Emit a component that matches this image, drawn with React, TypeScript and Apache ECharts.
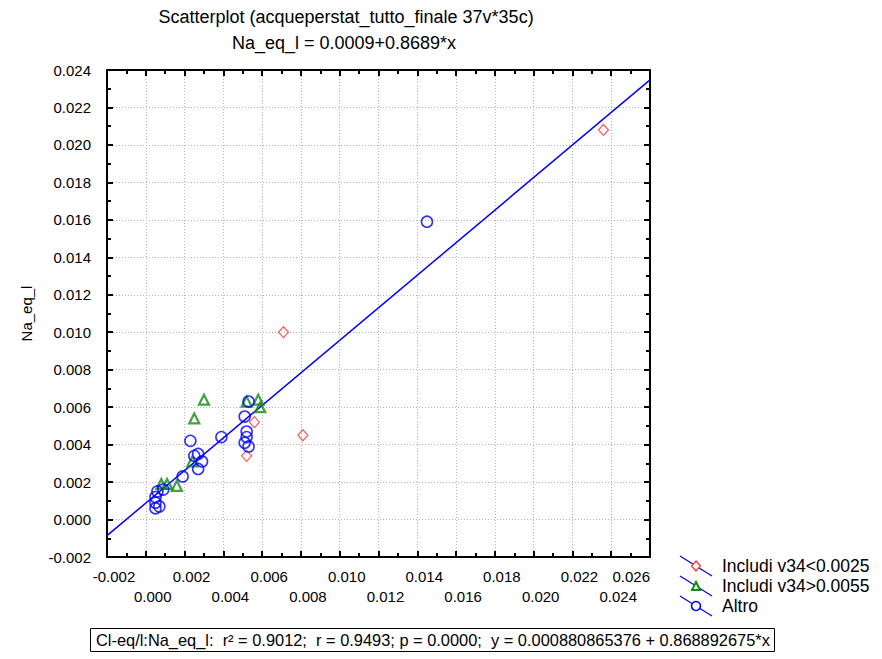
import React, { useEffect, useRef } from "react";
import * as echarts from "echarts";

const titleMain = "Scatterplot (acqueperstat_tutto_finale 37v*35c)";
const titleSub = "Na_eq_l = 0.0009+0.8689*x";
const yName = "Na_eq_l";
const statsText =
  "Cl-eq/l:Na_eq_l:  r\u00B2 = 0.9012;  r = 0.9493; p = 0.0000;  y = 0.000880865376 + 0.868892675*x";
const legendNames = ["Includi v34<0.0025", "Includi v34>0.0055", "Altro"];

// staggered x tick labels (two rows)
const xLabelsRow1 = [-0.002, 0.002, 0.006, 0.01, 0.014, 0.018, 0.022, 0.026];
const xLabelsRow2 = [0.0, 0.004, 0.008, 0.012, 0.016, 0.02, 0.024];

// [x, y]
const includiLow = [
  [0.0056, 0.0052],
  [0.0052, 0.0034],
  [0.0081, 0.0045],
  [0.0071, 0.01],
  [0.0236, 0.0208],
];
const includiHigh = [
  [0.003, 0.0064],
  [0.0025, 0.0054],
  [0.0052, 0.0063],
  [0.0058, 0.0064],
  [0.0059, 0.006],
  [0.0008, 0.0019],
  [0.0011, 0.0019],
  [0.0016, 0.0018],
  [0.0024, 0.0031],
];
const altro = [
  [0.0053, 0.0063],
  [0.0051, 0.0055],
  [0.0052, 0.0047],
  [0.0052, 0.0044],
  [0.0051, 0.0041],
  [0.0053, 0.0039],
  [0.0039, 0.0044],
  [0.0023, 0.0042],
  [0.0025, 0.0034],
  [0.0029, 0.0031],
  [0.0027, 0.0035],
  [0.0027, 0.0027],
  [0.0019, 0.0023],
  [0.0009, 0.0016],
  [0.0006, 0.0015],
  [0.0005, 0.0012],
  [0.0005, 0.0009],
  [0.0005, 0.0006],
  [0.0007, 0.0007],
  [0.0145, 0.0159],
];
// regression line end points (y = 0.000880865 + 0.868892675x) at the axis limits
const fitLine = [
  [-0.002, -0.00086],
  [0.026, 0.02347],
];

const X_MIN = -0.002;
const X_MAX = 0.026;
const Y_MIN = -0.002;
const Y_MAX = 0.024;
const STEP = 0.002;

const FONT = "'Liberation Sans', Arial, sans-serif";
const BLUE = "#0000ff";
const GREEN = "#138a13";
const RED = "#ff3030";

export default function App() {
  const ref = useRef<HTMLDivElement>(null);
  useEffect(() => {
    if (!ref.current) return;
    const chart = echarts.init(ref.current, undefined, { renderer: "svg" });
    const axisLine = () => ({ show: true, onZero: false, lineStyle: { color: "#000", width: 2 } });
    const axisTick = () => ({ show: true, inside: true, length: 6, lineStyle: { color: "#000", width: 2 } });
    const minorTick = () => ({ show: true, splitNumber: 2, length: 4, lineStyle: { color: "#000", width: 2 } });
    const splitLine = () => ({ show: true, lineStyle: { color: "#b4b4b4", width: 1, type: [1, 2] as any } });
    const fmt = (v: number) => (Math.abs(v) < 1e-9 ? "0.000" : v.toFixed(3));
    const xLabelBase = {
      show: true,
      color: "#000",
      fontFamily: FONT,
      fontSize: 15,
      padding: [0, 0, 0, 14],
      formatter: fmt,
    };

    const legendGraphics: any[] = [];
    legendNames.forEach((name, i) => {
      const cy = 566 + i * 20;
      legendGraphics.push({
        type: "line",
        shape: { x1: 680, y1: cy - 10, x2: 712, y2: cy + 10 },
        style: { stroke: BLUE, lineWidth: 1.2 },
      });
      if (i === 0) {
        legendGraphics.push({
          type: "polygon",
          shape: { points: [[696, cy - 5], [700.5, cy], [696, cy + 5], [691.5, cy]] },
          style: { fill: "#fff", stroke: RED, lineWidth: 1.2 },
        });
      } else if (i === 1) {
        legendGraphics.push({
          type: "polygon",
          shape: { points: [[696, cy - 4], [700, cy + 4], [692, cy + 4]] },
          style: { fill: "#fff", stroke: GREEN, lineWidth: 2 },
        });
      } else {
        legendGraphics.push({
          type: "circle",
          shape: { cx: 696, cy: cy, r: 4.5 },
          style: { fill: "#fff", stroke: BLUE, lineWidth: 1.6 },
        });
      }
      legendGraphics.push({
        type: "text",
        x: 722,
        y: cy,
        style: { text: name, font: `17.5px ${FONT}`, fill: "#000", textAlign: "left", textVerticalAlign: "middle" },
      });
    });

    chart.setOption({
      animation: false,
      backgroundColor: "#fff",
      grid: { left: 107, top: 70, width: 543, height: 487, containLabel: false },
      xAxis: [
        {
          type: "value",
          position: "bottom",
          min: X_MIN,
          max: X_MAX,
          interval: STEP,
          axisLine: axisLine(),
          axisTick: axisTick(),
          minorTick: minorTick(),
          splitLine: splitLine(),
          axisLabel: { ...xLabelBase, margin: 12, customValues: xLabelsRow1, alignMaxLabel: "right" },
        },
        {
          type: "value",
          position: "top",
          min: X_MIN,
          max: X_MAX,
          interval: STEP,
          axisLine: axisLine(),
          axisTick: axisTick(),
          minorTick: minorTick(),
          splitLine: { show: false },
          axisLabel: { show: false },
        },
        {
          type: "value",
          position: "bottom",
          min: X_MIN,
          max: X_MAX,
          interval: STEP,
          axisLine: { show: false },
          axisTick: { show: false },
          minorTick: { show: false },
          splitLine: { show: false },
          axisLabel: { ...xLabelBase, margin: 32, customValues: xLabelsRow2 },
        },
      ],
      yAxis: [
        {
          type: "value",
          position: "left",
          min: Y_MIN,
          max: Y_MAX,
          interval: STEP,
          axisLine: axisLine(),
          axisTick: axisTick(),
          minorTick: minorTick(),
          splitLine: splitLine(),
          name: yName,
          nameLocation: "middle",
          nameGap: 73,
          nameRotate: 90,
          nameTextStyle: { color: "#000", fontFamily: FONT, fontSize: 15 },
          axisLabel: {
            color: "#000",
            fontFamily: FONT,
            fontSize: 15,
            margin: 16,
            showMinLabel: true,
            showMaxLabel: true,
            formatter: fmt,
          },
        },
        {
          type: "value",
          position: "right",
          min: Y_MIN,
          max: Y_MAX,
          interval: STEP,
          axisLine: axisLine(),
          axisTick: axisTick(),
          minorTick: minorTick(),
          splitLine: { show: false },
          axisLabel: { show: false },
        },
      ],
      series: [
        {
          type: "line",
          data: fitLine,
          symbol: "none",
          lineStyle: { color: BLUE, width: 1.5 },
          z: 1,
        },
        {
          name: legendNames[0],
          type: "scatter",
          data: includiLow,
          symbol: "diamond",
          symbolSize: [10, 11],
          itemStyle: { color: "rgba(0,0,0,0)", borderColor: RED, borderWidth: 1.2 },
          z: 2,
        },
        {
          name: legendNames[1],
          type: "scatter",
          data: includiHigh,
          symbol: "triangle",
          symbolSize: [10, 10],
          itemStyle: { color: "rgba(0,0,0,0)", borderColor: GREEN, borderWidth: 2.2 },
          z: 3,
        },
        {
          name: legendNames[2],
          type: "scatter",
          data: altro,
          symbol: "circle",
          symbolSize: 11,
          itemStyle: { color: "rgba(0,0,0,0)", borderColor: BLUE, borderWidth: 1.6 },
          z: 4,
        },
      ],
      graphic: [
        {
          type: "text",
          x: 346,
          y: 17,
          style: { text: titleMain, font: `18px ${FONT}`, fill: "#000", textAlign: "center", textVerticalAlign: "middle" },
        },
        {
          type: "text",
          x: 344,
          y: 43,
          style: { text: titleSub, font: `18px ${FONT}`, fill: "#000", textAlign: "center", textVerticalAlign: "middle" },
        },
        ...legendGraphics,
        {
          type: "rect",
          shape: { x: 90.5, y: 628.5, width: 684, height: 23 },
          style: { fill: "none", stroke: "#000", lineWidth: 1 },
        },
        {
          type: "text",
          x: 96,
          y: 640,
          style: { text: statsText, font: `16.4px ${FONT}`, fill: "#000", textAlign: "left", textVerticalAlign: "middle" },
        },
      ],
    });
    return () => chart.dispose();
  }, []);
  return <div ref={ref} style={{ width: 882, height: 659, position: "absolute", left: 0, top: 0 }} />;
}
